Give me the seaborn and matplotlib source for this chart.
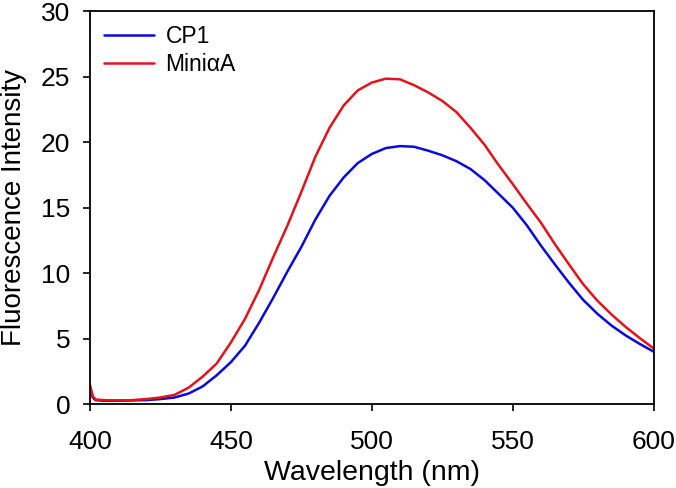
import matplotlib
matplotlib.use("Agg")
import matplotlib.pyplot as plt
import pandas as pd
import seaborn as sns

wavelength = [400, 401, 402, 405, 410, 415, 420, 425, 430, 435, 440, 445, 450,
              455, 460, 465, 470, 475, 480, 485, 490, 495, 500, 505, 510, 515,
              520, 525, 530, 535, 540, 545, 550, 555, 560, 565, 570, 575, 580,
              585, 590, 595, 600]
cp1 = [1.3, 0.5, 0.3, 0.25, 0.25, 0.28, 0.3, 0.38, 0.5, 0.8, 1.35, 2.2, 3.2,
       4.45, 6.2, 8.1, 10.1, 12.0, 14.1, 15.9, 17.3, 18.4, 19.1, 19.55, 19.7,
       19.65, 19.35, 19.0, 18.55, 17.95, 17.1, 16.05, 15.0, 13.65, 12.1, 10.65,
       9.25, 7.95, 6.9, 6.0, 5.25, 4.6, 4.0]
mini_aa = [1.5, 0.6, 0.35, 0.3, 0.28, 0.3, 0.38, 0.5, 0.7, 1.25, 2.1, 3.1,
           4.7, 6.5, 8.7, 11.2, 13.6, 16.2, 18.9, 21.1, 22.8, 23.95, 24.55,
           24.85, 24.8, 24.35, 23.8, 23.15, 22.3, 21.1, 19.8, 18.25, 16.8,
           15.3, 13.85, 12.2, 10.65, 9.15, 7.9, 6.85, 5.9, 5.05, 4.25]
series_names = ["CP1", "Mini\u03b1A"]
x_ticks = [400, 450, 500, 550, 600]
y_ticks = [0, 5, 10, 15, 20, 25, 30]

df = pd.DataFrame({
    "Wavelength": wavelength * 2,
    "Intensity": cp1 + mini_aa,
    "Amostra": [series_names[0]] * len(wavelength) + [series_names[1]] * len(wavelength),
})

sns.set_style("white")
plt.rcParams["font.family"] = ["Liberation Sans", "DejaVu Sans"]
# texto em preto puro, como no original
plt.rcParams["text.color"] = "black"
plt.rcParams["axes.labelcolor"] = "black"
plt.rcParams["xtick.color"] = "black"
plt.rcParams["ytick.color"] = "black"

fig, ax = plt.subplots(figsize=(6.76, 4.88), dpi=100)
fig.subplots_adjust(left=0.133, right=0.967, top=0.977, bottom=0.172)

sns.lineplot(data=df, x="Wavelength", y="Intensity", hue="Amostra",
             palette=["#0A0ADC", "#E5121A"], linewidth=1.8, ax=ax)

ax.set_xlim(400, 600)
ax.set_ylim(0, 30)
ax.set_xticks(x_ticks)
ax.set_yticks(y_ticks)
ax.set_xlabel("Wavelength (nm)", fontsize=20.5, labelpad=4)
ax.set_ylabel("Fluorescence Intensity", fontsize=20, labelpad=10)
ax.tick_params(axis="both", which="both", direction="out", length=5, width=1.2,
               labelsize=19, color="black", labelcolor="black", bottom=True,
               left=True, top=False, right=False)
ax.tick_params(axis="x", pad=14)
ax.tick_params(axis="y", pad=9)

for s in ax.spines.values():
    s.set_color("black")
    s.set_linewidth(1.3)

leg = ax.legend(loc="upper left", frameon=False, fontsize=16.5, handlelength=2.2,
                borderaxespad=0.2, labelspacing=0.2, handletextpad=0.5)
leg.set_title(None)
for t in leg.get_texts():
    t.set_color("black")

fig.savefig("out.png", dpi=100)
